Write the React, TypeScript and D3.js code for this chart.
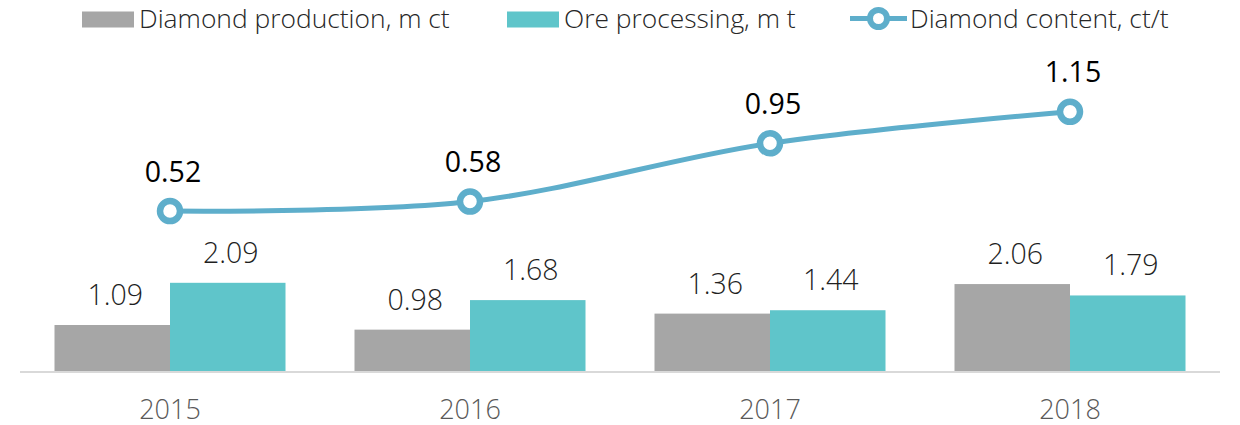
import React from "react";
import * as d3 from "d3";

const years = ["2015", "2016", "2017", "2018"];
const diamondProduction = [1.09, 0.98, 1.36, 2.06];
const oreProcessing = [2.09, 1.68, 1.44, 1.79];
const diamondContent = [0.52, 0.58, 0.95, 1.15];
const seriesNames = ["Diamond production, m ct", "Ore processing, m t", "Diamond content, ct/t"];

const W = 1240;
const H = 425;
const GRAY = "#A6A6A6";
const TEAL = "#5FC5CA";
const BLUE = "#5EAECB";
const FONT = "'Open Sans', 'Noto Sans', sans-serif";

export default function App() {
  const x0 = d3.scaleBand<string>().domain(years).range([20, 1220]).paddingInner(0).paddingOuter(0);
  const x1 = d3.scaleBand<string>().domain(["prod", "ore"]).range([34.5, 265.5]);
  const yBar = d3.scaleLinear().domain([0, 2.5]).range([371, 371 - 2.5 * 42.2]);
  const yLine = d3.scaleLinear().domain([0, 1.5]).range([293, 56.6]);

  const barSeries = [
    { key: "prod", values: diamondProduction, color: GRAY },
    { key: "ore", values: oreProcessing, color: TEAL },
  ];

  const linePts: [number, number][] = diamondContent.map((v, i) => [
    (x0(years[i]) as number) + x0.bandwidth() / 2,
    yLine(v),
  ]);
  const lineGen = d3.line().curve(d3.curveCardinal.tension(0));
  const path = lineGen(linePts) || "";

  return (
    <svg
      width={W}
      height={H}
      style={{ position: "absolute", left: 0, top: 0, background: "#fff" }}
      fontFamily={FONT}
      fontWeight={300}
    >
      {/* bars */}
      {barSeries.map((s) =>
        s.values.map((v, i) => {
          const x = (x0(years[i]) as number) + (x1(s.key) as number);
          return (
            <rect
              key={s.key + i}
              x={x}
              y={yBar(v)}
              width={x1.bandwidth()}
              height={yBar(0) - yBar(v)}
              fill={s.color}
            />
          );
        })
      )}
      {/* axis line */}
      <line x1={20} x2={1220} y1={372} y2={372} stroke="#D9D9D9" strokeWidth={2} />
      {/* bar labels */}
      {barSeries.map((s) =>
        s.values.map((v, i) => {
          const x = (x0(years[i]) as number) + (x1(s.key) as number) + x1.bandwidth() / 2 + 3;
          return (
            <text
              key={"l" + s.key + i}
              x={x}
              y={yBar(v) - 20}
              textAnchor="middle"
              fontSize={28.5}
              fill="#1F1F1F"
            >
              {v.toFixed(2)}
            </text>
          );
        })
      )}
      {/* year labels */}
      {years.map((yr) => (
        <text
          key={yr}
          x={(x0(yr) as number) + x0.bandwidth() / 2}
          y={418.5}
          textAnchor="middle"
          fontSize={27}
          fill="#595959"
        >
          {yr}
        </text>
      ))}
      {/* line */}
      <path d={path} fill="none" stroke={BLUE} strokeWidth={5} />
      {linePts.map((p, i) => (
        <circle key={"c" + i} cx={p[0]} cy={p[1]} r={10} fill="#fff" stroke={BLUE} strokeWidth={6.5} />
      ))}
      {linePts.map((p, i) => (
        <text
          key={"t" + i}
          x={p[0] + 3}
          y={p[1] - 29.5}
          textAnchor="middle"
          fontSize={28.5}
          fill="#000"
          fontWeight={400}
        >
          {diamondContent[i].toFixed(2)}
        </text>
      ))}
      {/* legend */}
      <rect x={82} y={11.5} width={52} height={16} fill={GRAY} />
      <text x={139} y={28} fontSize={26.4} fill="#262626">
        {seriesNames[0]}
      </text>
      <rect x={507} y={11.5} width={52} height={16} fill={TEAL} />
      <text x={564} y={28} fontSize={26.4} fill="#262626">
        {seriesNames[1]}
      </text>
      <line x1={850} x2={907} y1={18.5} y2={18.5} stroke={BLUE} strokeWidth={5} />
      <circle cx={878.5} cy={18.5} r={8.5} fill="#fff" stroke={BLUE} strokeWidth={6} />
      <text x={910} y={28} fontSize={26.4} fill="#262626">
        {seriesNames[2]}
      </text>
    </svg>
  );
}
